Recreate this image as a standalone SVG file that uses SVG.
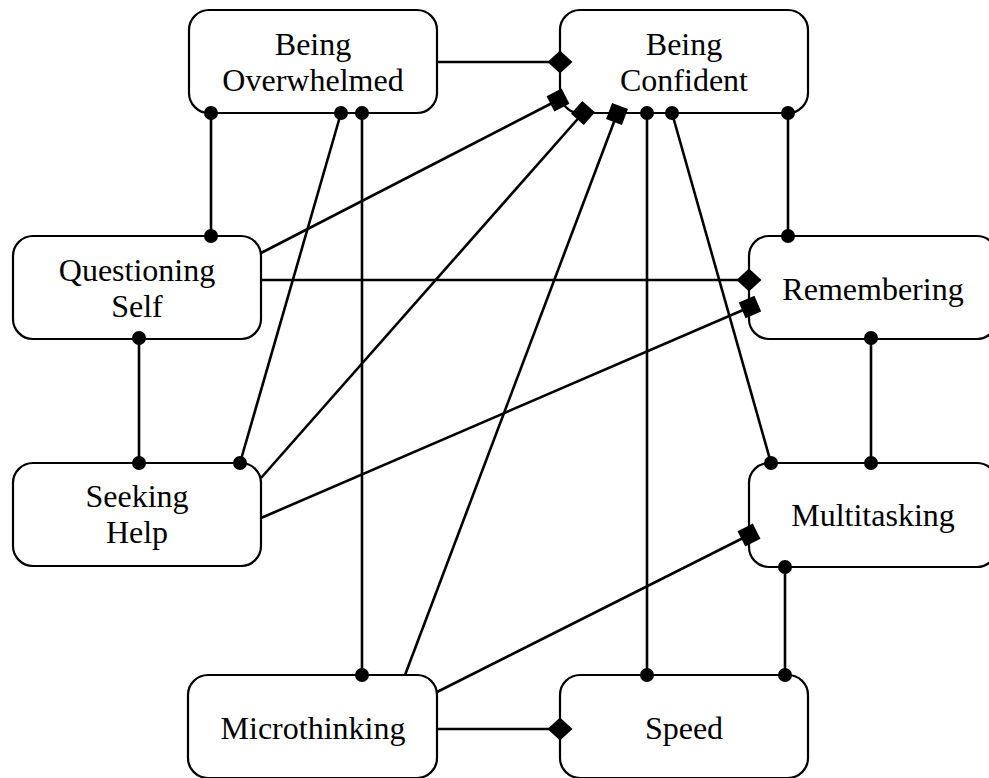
<svg xmlns="http://www.w3.org/2000/svg" width="989" height="778" viewBox="0 0 989 778">
<style>
.box{fill:#fff;stroke:#000;stroke-width:2.2}
.lbl{font-family:"Liberation Serif","Times New Roman","DejaVu Serif",serif;font-size:32px;fill:#000;text-anchor:middle}
.c{stroke:#000;stroke-width:2.6;fill:none}
.dd{marker-start:url(#dot);marker-end:url(#dot)}
.dia{marker-end:url(#diamond)}
.sq{marker-end:url(#square)}
</style>
<defs>
<marker id="dot" viewBox="-8 -8 16 16" refX="0" refY="0" markerWidth="16" markerHeight="16" markerUnits="userSpaceOnUse"><circle r="7" fill="#000"/></marker>
<marker id="diamond" viewBox="-13 -13 26 26" refX="0" refY="0" markerWidth="26" markerHeight="26" markerUnits="userSpaceOnUse" orient="auto"><path d="M-12.5,0 L0,-11.5 L12.5,0 L0,11.5 Z" fill="#000"/></marker>
<marker id="square" viewBox="-12 -12 24 24" refX="0" refY="0" markerWidth="24" markerHeight="24" markerUnits="userSpaceOnUse" orient="auto"><rect x="-8.5" y="-8.5" width="17" height="17" fill="#000"/></marker>
</defs>
<g id="being-overwhelmed"><rect class="box" x="189" y="10" width="248" height="103" rx="20"/><text class="lbl" x="313" y="55">Being</text><text class="lbl" x="313" y="91">Overwhelmed</text></g>
<g id="being-confident"><rect class="box" x="560" y="10" width="248" height="103" rx="20"/><text class="lbl" x="684" y="55">Being</text><text class="lbl" x="684" y="91">Confident</text></g>
<g id="questioning-self"><rect class="box" x="13" y="236" width="248" height="103" rx="20"/><text class="lbl" x="137" y="281">Questioning</text><text class="lbl" x="137" y="317">Self</text></g>
<g id="remembering"><rect class="box" x="749" y="236" width="248" height="103" rx="20"/><text class="lbl" x="873" y="300">Remembering</text></g>
<g id="seeking-help"><rect class="box" x="13" y="463" width="248" height="103" rx="20"/><text class="lbl" x="137" y="507">Seeking</text><text class="lbl" x="137" y="543">Help</text></g>
<g id="multitasking"><rect class="box" x="749" y="463" width="248" height="104" rx="20"/><text class="lbl" x="873" y="526">Multitasking</text></g>
<g id="microthinking"><rect class="box" x="188" y="675" width="249" height="103" rx="20"/><text class="lbl" x="313" y="739">Microthinking</text></g>
<g id="speed"><rect class="box" x="560" y="675" width="248" height="103" rx="20"/><text class="lbl" x="684" y="739">Speed</text></g>
<g id="connectors">
<path class="c dia" d="M437,62 L560,62"/>
<path class="c dd" d="M211,113 L211,236"/>
<path class="c dd" d="M341,113 L240,463"/>
<path class="c dd" d="M362,113 L362,675"/>
<path class="c sq" d="M261,253 L558,100"/>
<path class="c sq" d="M261,478 L583,113"/>
<path class="c sq" d="M405,675 L617,114"/>
<path class="c dd" d="M672,113 L771,463"/>
<path class="c dd" d="M647,113 L647,675"/>
<path class="c dd" d="M788,113 L788,236"/>
<path class="c dia" d="M261,280 L749,280"/>
<path class="c sq" d="M261,518 L750,307"/>
<path class="c dd" d="M139,338 L139,463"/>
<path class="c dd" d="M871,338 L871,463"/>
<path class="c sq" d="M437,692 L749,535"/>
<path class="c dd" d="M785,567 L785,675"/>
<path class="c dia" d="M437,729 L560,729"/>
</g>
</svg>
